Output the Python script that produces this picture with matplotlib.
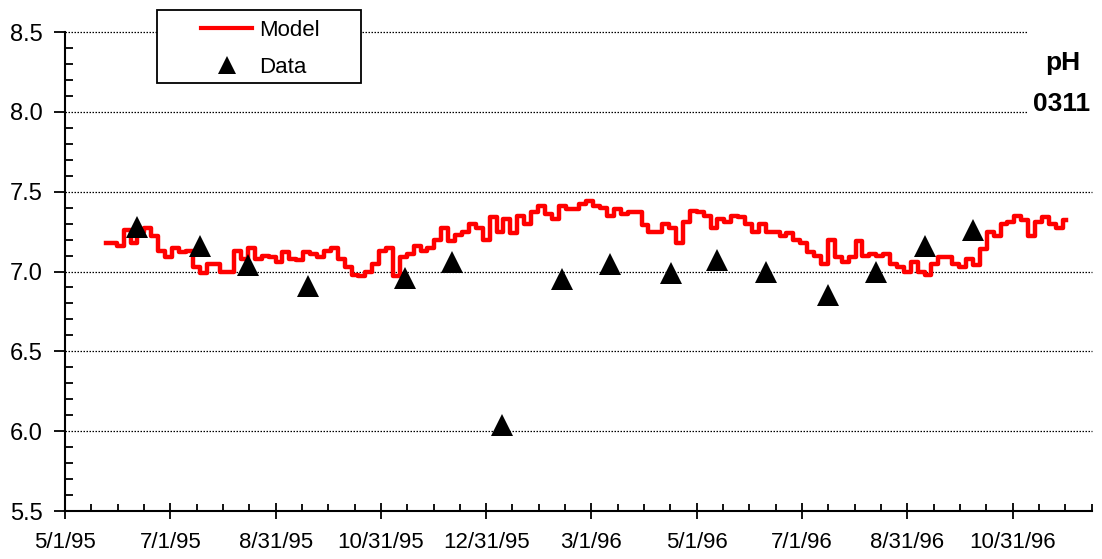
# pH at station 0311: model output vs. measured data

import numpy as np
import pandas as pd
import matplotlib
matplotlib.use("Agg")
import matplotlib.pyplot as plt
import matplotlib.dates as mdates
from matplotlib.ticker import FixedLocator, MultipleLocator
from matplotlib.patches import Rectangle
from matplotlib.lines import Line2D

plt.rcParams['font.family'] = ['Liberation Sans', 'DejaVu Sans']

# model output, one value every 4 days starting 5/25/95
model_start = '1995-05-25'
model_step = '4D'
model_ph = [
    7.18, 7.18, 7.16, 7.26, 7.18, 7.25, 7.27, 7.22, 7.13, 7.09, 7.15, 7.12, 7.13,
    7.03, 6.99, 7.05, 7.05, 7.00, 7.00, 7.13, 7.08, 7.15, 7.08, 7.10, 7.09, 7.06,
    7.12, 7.08, 7.07, 7.12, 7.11, 7.09, 7.13, 7.15, 7.08, 7.03, 6.98, 6.97, 7.00,
    7.05, 7.13, 7.15, 6.97, 7.09, 7.11, 7.16, 7.13, 7.15, 7.20, 7.27,
    7.19, 7.23, 7.25, 7.30, 7.27, 7.20, 7.34, 7.25, 7.33, 7.24, 7.35, 7.30, 7.37,
    7.41, 7.36, 7.33, 7.41, 7.39, 7.39, 7.42, 7.44, 7.41, 7.40, 7.35, 7.39,
    7.36, 7.37, 7.37, 7.29, 7.25, 7.25, 7.30, 7.27, 7.18, 7.31, 7.38, 7.37, 7.35,
    7.27, 7.33, 7.31, 7.35, 7.34, 7.30, 7.25, 7.30, 7.25, 7.25, 7.22,
    7.24, 7.20, 7.18, 7.12, 7.10, 7.05, 7.20, 7.09, 7.06, 7.09, 7.19, 7.10, 7.11,
    7.10, 7.11, 7.05, 7.03, 7.00, 7.06, 7.00, 6.98, 7.05, 7.09, 7.09, 7.05,
    7.03, 7.08, 7.04, 7.14, 7.25, 7.22, 7.30, 7.31, 7.35, 7.32, 7.22, 7.31, 7.34,
    7.30, 7.27, 7.32,
]

# measured samples
data_dates = ['1995-06-12', '1995-07-18', '1995-08-15', '1995-09-19', '1995-11-14',
              '1995-12-11', '1996-01-09', '1996-02-13', '1996-03-12', '1996-04-16',
              '1996-05-13', '1996-06-10', '1996-07-16', '1996-08-13', '1996-09-10',
              '1996-10-08']
data_ph = [7.28, 7.16, 7.04, 6.91, 6.96, 7.06, 6.04, 6.95, 7.05, 6.99,
           7.07, 7.00, 6.85, 7.00, 7.16, 7.26]

tick_dates = ['1995-05-01', '1995-07-01', '1995-08-31', '1995-10-31', '1995-12-31',
              '1996-03-01', '1996-05-01', '1996-07-01', '1996-08-31', '1996-10-31']
tick_labels = ['5/1/95', '7/1/95', '8/31/95', '10/31/95', '12/31/95',
               '3/1/96', '5/1/96', '7/1/96', '8/31/96', '10/31/96']
y_ticks = [5.5, 6.0, 6.5, 7.0, 7.5, 8.0, 8.5]

W, H = 1102, 559
fig = plt.figure(figsize=(W / 100, H / 100), dpi=100)
ax = fig.add_axes([65 / W, 48 / H, 1027 / W, 479 / H])

model_t = pd.date_range(model_start, periods=len(model_ph), freq=model_step)
data_t = pd.to_datetime(data_dates)

# dotted horizontal gridlines
for yv in y_ticks[1:]:
    ax.axhline(yv, color='black', lw=0.9, ls=(0, (1.2, 1.2)), zorder=1, clip_on=False)

ax.plot(model_t, model_ph, color='red', lw=3.2, drawstyle='steps-mid', zorder=2)
ax.plot(data_t, data_ph, ls='none', marker='^', color='black', ms=15.5, mew=0, zorder=3)

ax.set_xlim(mdates.datestr2num('1995-05-01'), mdates.datestr2num('1996-12-16'))
ax.set_ylim(5.5, 8.5)

majors = mdates.datestr2num(tick_dates)
minors = [m + f * 61 / 4 for m in majors for f in (1, 2, 3)]
ax.xaxis.set_major_locator(FixedLocator(majors))
ax.xaxis.set_minor_locator(FixedLocator(minors))
ax.set_xticklabels(tick_labels)
ax.set_yticks(y_ticks)
ax.set_yticklabels([f'{v:.1f}' for v in y_ticks])
ax.yaxis.set_minor_locator(MultipleLocator(0.1))

ax.tick_params(axis='x', which='major', direction='inout', length=12, width=1.3,
               labelsize=16, pad=9)
ax.tick_params(axis='x', which='minor', direction='in', length=5, width=1.3)
ax.tick_params(axis='y', which='major', direction='out', length=8, width=1.3,
               labelsize=17, pad=8)
ax.tick_params(axis='y', which='minor', direction='in', length=6, width=1.3)

for s in ['top', 'right']:
    ax.spines[s].set_visible(False)
for s in ['left', 'bottom']:
    ax.spines[s].set_linewidth(1.5)

# legend box
fig.add_artist(Rectangle((157 / W, 1 - 83 / H), 204 / W, 73 / H, transform=fig.transFigure,
                         facecolor='white', edgecolor='black', lw=1.3, zorder=3))
handles = [Line2D([], [], color='red', lw=3),
           Line2D([], [], ls='none', marker='^', color='black', ms=13, mew=0)]
fig.legend(handles, ['Model', 'Data'], loc='upper left',
           bbox_to_anchor=(201 / W, 1 - 20 / H), frameon=False, fontsize=16,
           handlelength=2.3, handletextpad=0.3, labelspacing=0.72,
           borderpad=0, borderaxespad=0)

# title block on the right
fig.add_artist(Rectangle((1027 / W, 1 - 120 / H), 75 / W, 95 / H, transform=fig.transFigure,
                         facecolor='white', edgecolor='none', zorder=3))
fig.text(1063 / W, 1 - 63 / H, 'pH', ha='center', va='center', fontsize=19,
         fontweight='bold', zorder=4)
fig.text(1062 / W, 1 - 104 / H, '0311', ha='center', va='center', fontsize=19,
         fontweight='bold', zorder=4)

fig.savefig('out.png', dpi=100)
